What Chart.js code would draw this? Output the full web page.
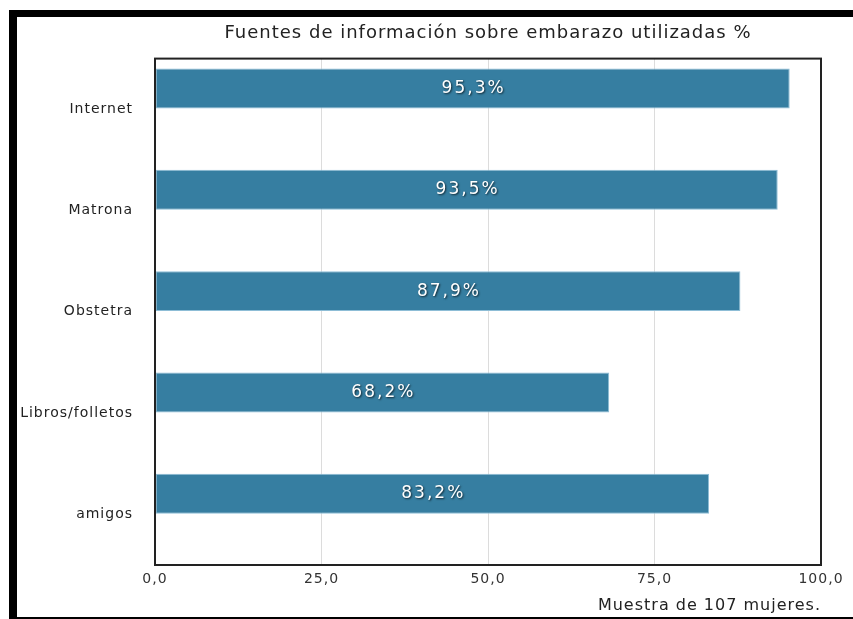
<!DOCTYPE html>
<html lang="es">
<head>
    <meta charset="UTF-8">
    <title>Fuentes de información sobre embarazo</title>
    <style>
        html, body { margin: 0; padding: 0; background: #fff; }
        #wrap { position: relative; width: 853px; height: 619px; overflow: hidden; }
        #frame {
            position: absolute; left: 9px; top: 10px; width: 900px; height: 600px;
            border-left: 8px solid #000; border-top: 7px solid #000; border-bottom: 3px solid #000;
            pointer-events: none;
        }
    </style>
</head>
<body>
<div id="wrap">
    <canvas id="myChart" width="853" height="619"></canvas>
    <div id="frame"></div>
</div>

<script src="https://cdn.jsdelivr.net/npm/chart.js"></script>
<script>
    const categories = ['Internet', 'Matrona', 'Obstetra', 'Libros/folletos', 'amigos'];
    const values = [95.3, 93.5, 87.9, 68.2, 83.2];
    const xTicks = [0, 25, 50, 75, 100];

    const fmt = v => v.toFixed(1).replace('.', ',');
    const FONT = '"DejaVu Sans", "Liberation Sans", Arial, sans-serif';

    // the reference text is wide, so space the letters a little
    // (set again before layout and draw: resizing the canvas resets the context)
    const wideText = {
        id: 'wideText',
        beforeLayout(chart) { chart.ctx.letterSpacing = '1px'; },
        beforeDraw(chart) { chart.ctx.letterSpacing = '1px'; }
    };

    // frame around the plot area
    const plotBorder = {
        id: 'plotBorder',
        afterDraw(chart) {
            const { ctx, chartArea: a } = chart;
            ctx.save();
            ctx.strokeStyle = '#222';
            ctx.lineWidth = 2;
            ctx.strokeRect(a.left, a.top, a.right - a.left, a.bottom - a.top);
            ctx.restore();
        }
    };

    // white value labels inside the bars
    const barLabels = {
        id: 'barLabels',
        afterDatasetsDraw(chart) {
            const { ctx } = chart;
            const meta = chart.getDatasetMeta(0);
            ctx.save();
            ctx.font = '17px ' + FONT;
            ctx.letterSpacing = '2px';
            ctx.fillStyle = '#fff';
            ctx.textAlign = 'center';
            ctx.textBaseline = 'middle';
            ctx.shadowColor = 'rgba(0,0,0,0.7)';
            ctx.shadowBlur = 2;
            ctx.shadowOffsetX = 1;
            ctx.shadowOffsetY = 1;
            meta.data.forEach((bar, i) => {
                const x = (bar.base + bar.x) / 2;
                ctx.fillText(fmt(values[i]) + '%', x + 1, bar.y);
            });
            ctx.restore();
        }
    };

    const ctx = document.getElementById('myChart').getContext('2d');

    new Chart(ctx, {
        type: 'bar',
        data: {
            labels: categories,
            datasets: [{
                data: values,
                backgroundColor: '#367ea1',
                borderColor: '#8dbdd6',
                borderWidth: 1,
                borderSkipped: false,
                categoryPercentage: 0.817,
                barPercentage: 0.966
            }, {
                // empty slot that pushes the bars to the top of each band
                data: categories.map(() => null),
                backgroundColor: 'rgba(0,0,0,0)',
                categoryPercentage: 0.817,
                barPercentage: 0.966
            }]
        },
        options: {
            indexAxis: 'y',
            responsive: false,
            animation: false,
            layout: { padding: { left: 0, right: 32, top: 0, bottom: 0 } },
            plugins: {
                legend: { display: false },
                tooltip: { enabled: false },
                title: {
                    display: true,
                    fullSize: false,
                    text: 'Fuentes de información sobre embarazo utilizadas %',
                    color: '#222',
                    font: { family: FONT, size: 18, weight: 'normal' },
                    padding: { top: 23, bottom: 14 }
                }
            },
            scales: {
                x: {
                    min: 0,
                    max: 100,
                    afterBuildTicks: s => { s.ticks = xTicks.map(v => ({ value: v })); },
                    ticks: {
                        callback: v => fmt(v),
                        color: '#333',
                        font: { family: FONT, size: 14 },
                        padding: 6,
                        maxRotation: 0
                    },
                    grid: {
                        color: ctx => (ctx.tick && (ctx.tick.value === 0 || ctx.tick.value === 100)) ? 'rgba(0,0,0,0)' : '#dcdcdc',
                        drawTicks: false
                    },
                    border: { display: false },
                    title: {
                        display: true,
                        text: 'Muestra de 107 mujeres.',
                        align: 'end',
                        color: '#222',
                        font: { family: FONT, size: 16 },
                        padding: { top: 0, bottom: 4 }
                    },
                    afterFit: s => { s.height = 54; }
                },
                y: {
                    grid: { display: false, drawTicks: false },
                    border: { display: false },
                    ticks: {
                        color: '#222',
                        font: { family: FONT, size: 14 },
                        padding: 22
                    },
                    afterFit: s => { s.width = 155; }
                }
            }
        },
        plugins: [wideText, plotBorder, barLabels]
    });
</script>
</body>
</html>
